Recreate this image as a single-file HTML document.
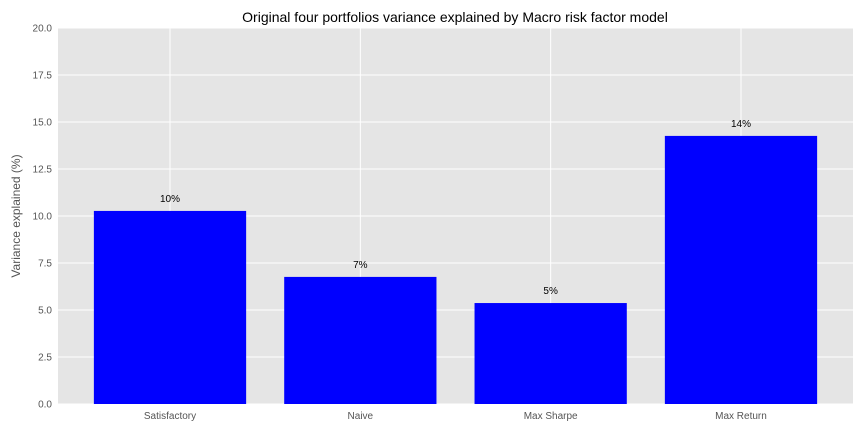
<!DOCTYPE html>
<html><head><meta charset="utf-8"><style>
body{margin:0;background:#fff;font-family:"Liberation Sans","DejaVu Sans",sans-serif;}
</style></head><body>
<svg id="chart" width="864" height="432" xmlns="http://www.w3.org/2000/svg">
<rect x="0" y="0" width="864" height="432" fill="#fff"/>
<rect x="58" y="28" width="795" height="376" fill="#e5e5e5"/>
<g id="grid"></g><g id="bars"></g><g id="axes"></g>
<text x="455" y="22" text-anchor="middle" font-size="14" fill="#000">Original four portfolios variance explained by Macro risk factor model</text>
<text transform="translate(20,216) rotate(-90)" text-anchor="middle" font-size="12" fill="#555">Variance explained (%)</text>
</svg>
<script>
const categories=["Satisfactory","Naive","Max Sharpe","Max Return"];
const values=[10.27,6.76,5.37,14.26];
const barLabels=["10%","7%","5%","14%"];
const yTicks=[0,2.5,5,7.5,10,12.5,15,17.5,20];
const yTickLabels=["0.0","2.5","5.0","7.5","10.0","12.5","15.0","17.5","20.0"];
const NS="http://www.w3.org/2000/svg";
const L=58,R=853,T=28,B=404;
const xMin=-0.5885,xMax=categories.length-1+0.5885;
const y=v=>B-(v/20)*(B-T);
const x=i=>L+(i-xMin)/(xMax-xMin)*(R-L);
function mk(tag,attrs,parent){const e=document.createElementNS(NS,tag);for(const k in attrs)e.setAttribute(k,attrs[k]);document.getElementById(parent).appendChild(e);return e;}
yTicks.forEach((t,i)=>{
 const g=mk('line',{x1:L,x2:R,y1:y(t),y2:y(t),stroke:'#fff','stroke-width':1},'grid');
 
 
 const tl=mk('text',{x:L-6,y:y(t)+3.5,'text-anchor':'end','font-size':10,fill:'#555'},'axes');
 tl.textContent=yTickLabels[i];
 
 
});
const uw=(R-L)/(xMax-xMin);
categories.forEach((c,i)=>{
 const gl=mk('line',{x1:x(i),x2:x(i),y1:T,y2:B,stroke:'#fff','stroke-width':1},'grid');
 
 
 const w=0.8*uw;
 const b=mk('rect',{x:x(i)-w/2,y:y(values[i]),width:w,height:B-y(values[i]),fill:'#0000ff'},'bars');
 
 
 const vl=mk('text',{x:x(i),y:y(values[i])-9,'text-anchor':'middle','font-size':10,fill:'#000'},'bars');
 vl.textContent=barLabels[i];
 
 
 const xl=mk('text',{x:x(i),y:B+15,'text-anchor':'middle','font-size':10,fill:'#555'},'axes');
 xl.textContent=c;
 
 
});
</script>
</body></html>
